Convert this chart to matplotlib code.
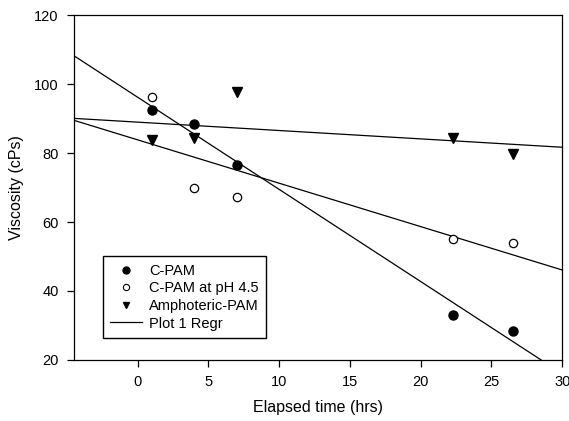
import numpy as np
import matplotlib
matplotlib.use('Agg')
import matplotlib.pyplot as plt
from matplotlib.lines import Line2D

plt.rcParams['font.family'] = ['Liberation Sans', 'DejaVu Sans']

# elapsed time (hrs)
hours = [1.0, 4.0, 7.0, 22.3, 26.5]
# viscosity (cPs)
cpam = [92.5, 88.3, 76.4, 32.9, 28.4]
cpam_ph45 = [96.4, 69.9, 67.4, 55.0, 54.0]
amphoteric = [83.7, 84.4, 97.8, 84.5, 79.7]

xlim = (-4.5, 30)
xticks = [0, 5, 10, 15, 20, 25, 30]
yticks = [20, 40, 60, 80, 100, 120]


def run():
    fig = plt.figure(figsize=(5.69, 4.21), dpi=100)
    ax = fig.add_axes([0.130, 0.145, 0.858, 0.819])

    x = np.array(hours)
    xx = np.array(xlim)
    # one regression line per series
    for y in (cpam, cpam_ph45, amphoteric):
        m, b = np.polyfit(x, np.array(y), 1)
        ax.plot(xx, m * xx + b, color='k', lw=0.9, zorder=2)

    ax.plot(hours, cpam, 'o', ms=6.5, mfc='k', mec='k', ls='none', zorder=3)
    ax.plot(hours, cpam_ph45, 'o', ms=6, mfc='w', mec='k', mew=0.9, ls='none', zorder=3)
    ax.plot(hours, amphoteric, 'v', ms=6.5, mfc='k', mec='k', ls='none', zorder=3)

    ax.set_xlim(*xlim)
    ax.set_ylim(20, 120)
    ax.set_xticks(xticks)
    ax.set_yticks(yticks)
    ax.tick_params(direction='out', length=5, width=0.9, labelsize=10.5, pad=6)
    for s in ax.spines.values():
        s.set_linewidth(0.9)

    ax.set_xlabel('Elapsed time (hrs)', fontsize=11.5, labelpad=8)
    ax.set_ylabel('Viscosity (cPs)', fontsize=11.5, labelpad=7)

    handles = [
        Line2D([], [], marker='o', ls='none', ms=5, mfc='k', mec='k'),
        Line2D([], [], marker='o', ls='none', ms=4.5, mfc='w', mec='k', mew=0.8),
        Line2D([], [], marker='v', ls='none', ms=5, mfc='k', mec='k'),
        Line2D([], [], color='k', lw=0.9),
    ]
    labels = ['C-PAM', 'C-PAM at pH 4.5', 'Amphoteric-PAM', 'Plot 1 Regr']
    leg = ax.legend(handles, labels, loc='lower left', bbox_to_anchor=(0.059, 0.064),
                    fontsize=10.5, fancybox=False, framealpha=1, edgecolor='k',
                    handlelength=2.2, handletextpad=0.5, labelspacing=0.25,
                    borderpad=0.5, borderaxespad=0)
    leg.get_frame().set_linewidth(1.0)

    fig.savefig('out.png', dpi=100)


if __name__ == '__main__':
    run()
